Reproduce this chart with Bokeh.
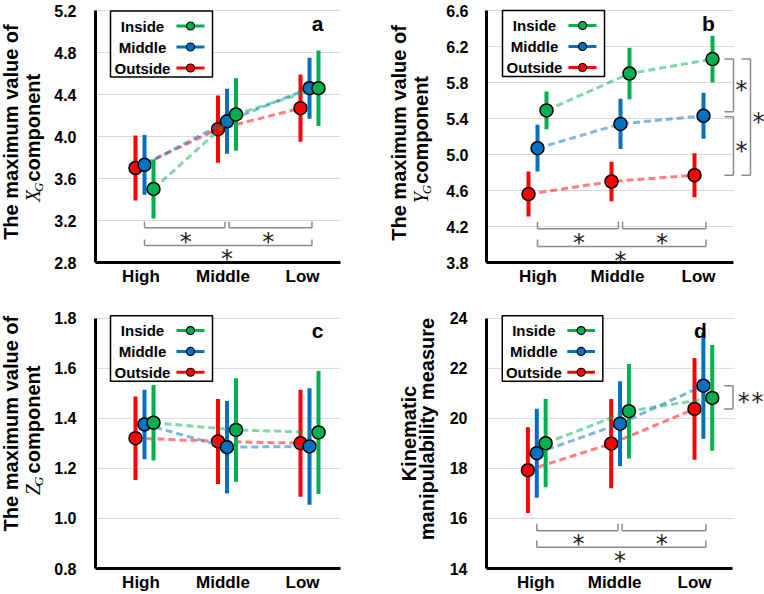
import math
from bokeh.plotting import figure
from bokeh.models import Label, FixedTicker, PrintfTickFormatter, Range1d
from bokeh.layouts import gridplot
from bokeh.embed import file_html
from bokeh.resources import INLINE

# ---------------- data ----------------
categories = ["High", "Middle", "Low"]
series_names = ["Inside", "Middle", "Outside"]
series_colors = {"Inside": "#00B050", "Middle": "#0070C0", "Outside": "#FF0000"}

# (a) maximum value of X_G component
a_inside_mean = [3.50, 4.21, 4.46]
a_inside_sd = [0.28, 0.345, 0.36]
a_middle_mean = [3.73, 4.145, 4.46]
a_middle_sd = [0.285, 0.31, 0.29]
a_outside_mean = [3.70, 4.07, 4.27]
a_outside_sd = [0.31, 0.32, 0.32]
a_yticks = [2.8, 3.2, 3.6, 4.0, 4.4, 4.8, 5.2]

# (b) maximum value of Y_G component
b_inside_mean = [5.49, 5.90, 6.06]
b_inside_sd = [0.21, 0.285, 0.26]
b_middle_mean = [5.07, 5.34, 5.43]
b_middle_sd = [0.26, 0.28, 0.255]
b_outside_mean = [4.56, 4.70, 4.77]
b_outside_sd = [0.25, 0.22, 0.245]
b_yticks = [3.8, 4.2, 4.6, 5.0, 5.4, 5.8, 6.2, 6.6]

# (c) maximum value of Z_G component
c_inside_mean = [1.383, 1.354, 1.344]
c_inside_sd = [0.151, 0.207, 0.246]
c_middle_mean = [1.376, 1.285, 1.288]
c_middle_sd = [0.139, 0.185, 0.233]
c_outside_mean = [1.321, 1.308, 1.301]
c_outside_sd = [0.167, 0.170, 0.214]
c_yticks = [0.8, 1.0, 1.2, 1.4, 1.6, 1.8]

# (d) kinematic manipulability measure
d_inside_mean = [19.01, 20.29, 20.82]
d_inside_sd = [1.765, 1.89, 2.115]
d_middle_mean = [18.61, 19.79, 21.31]
d_middle_sd = [1.78, 1.70, 2.12]
d_outside_mean = [17.93, 18.99, 20.38]
d_outside_sd = [1.715, 1.785, 2.035]
d_yticks = [14, 16, 18, 20, 22, 24]

FONT = "Liberation Sans"
GRID = "#d9d9d9"
BRK = "#8a8a8a"
PANEL_W, PANEL_H = 382, 297


def vlabel(t, x, y, text, font=FONT, style="bold", size=20):
    # x, y: centre of the rotated text box
    t.add_layout(Label(x=x, y=y, text=text, angle=math.pi / 2,
                       text_font=font, text_font_style=style,
                       text_font_size=f"{size}px", text_align="center",
                       text_baseline="middle", text_color="black"))


def title_fig(W, ylab):
    t = figure(width=W, height=PANEL_H, output_backend="svg", toolbar_location=None,
               x_range=Range1d(0, W), y_range=Range1d(PANEL_H, 0),
               x_axis_type=None, y_axis_type=None,
               min_border_left=0, min_border_right=0, min_border_top=0, min_border_bottom=0)
    t.outline_line_color = None
    t.background_fill_color = "white"
    t.border_fill_color = "white"
    t.xgrid.visible = False
    t.ygrid.visible = False
    l1_text, l1_base, l1_cy, l2, l2_base, l2_cy = ylab
    vlabel(t, l1_base - 7, l1_cy, l1_text)
    if isinstance(l2, tuple):
        sym, rest = l2
        symw = 12.2 if sym == "X" else 11.1
        subw, gap, restw = 9.4, 8.5, 107.8
        total = symw + subw + gap + restw
        start = l2_cy + total / 2
        vlabel(t, l2_base - 7, start - symw / 2, sym, font="Liberation Serif",
               style="italic", size=20)
        vlabel(t, l2_base + 3.5 - 4.5, start - symw - subw / 2 + 1, "G",
               font="Liberation Serif", style="italic", size=13)
        vlabel(t, l2_base - 7, start - symw - subw - gap - restw / 2, rest)
    else:
        vlabel(t, l2_base - 7, l2_cy, l2)
    return t


def build(g, means, sds, yticks, fmt, letter, legend_pos, ylab,
          bottom_sig=None, right_sig=None):
    W = g["title_w"]
    left, right, top, bottom = g["left"], g["right"], g["top"], g["bottom"]
    s = g["s"]
    ymin, ymax = yticks[0], yticks[-1]
    x0 = 1 - (g["cat1"] - left) / s
    upp = (ymax - ymin) / (bottom - top)

    def X(px):
        return x0 + (px - left) / s

    def Y(py):
        return ymax - (py - top) * upp

    p = figure(width=PANEL_W - W, height=PANEL_H, output_backend="svg", toolbar_location=None,
               x_range=Range1d(x0, X(right)), y_range=Range1d(ymin, Y(2)),
               min_border_left=left - W, min_border_right=PANEL_W - right,
               min_border_top=2, min_border_bottom=PANEL_H - bottom)
    p.outline_line_color = None
    p.background_fill_color = "white"
    p.border_fill_color = "white"
    p.xgrid.visible = False
    p.ygrid.visible = False

    xpos = [i + 1 for i in range(len(categories))]
    label_pos = [round(X(px), 6) for px in g["label_px"]]
    p.xaxis.ticker = FixedTicker(ticks=label_pos)
    p.xaxis.major_label_overrides = {x: c for x, c in zip(label_pos, categories)}
    p.yaxis.ticker = FixedTicker(ticks=yticks)
    p.yaxis.formatter = PrintfTickFormatter(format=fmt)
    p.xaxis.bounds = (x0, X(g["axis_end"]))
    p.yaxis.bounds = (ymin, ymax)
    for ax in (p.xaxis[0], p.yaxis[0]):
        ax.axis_line_width = 3
        ax.axis_line_color = "black"
        ax.major_tick_out = 0
        ax.major_tick_in = 0
        ax.minor_tick_out = 0
        ax.minor_tick_in = 0
        ax.major_tick_line_color = None
        ax.minor_tick_line_color = None
        ax.major_label_text_font = FONT
        ax.major_label_text_font_style = "bold"
        ax.major_label_text_color = "black"
    p.xaxis.major_label_text_font_size = "17px"
    p.xaxis.major_label_standoff = 4
    p.yaxis.major_label_text_font_size = "16px"
    p.yaxis.major_label_standoff = g["ystandoff"]

    # gridlines
    gt = yticks[1:]
    p.segment(x0=[x0] * len(gt), y0=gt, x1=[X(g["grid_end"])] * len(gt), y1=gt,
              line_color=GRID, line_width=1)

    # data series
    offs = {"Inside": 9, "Middle": 0, "Outside": -9}
    for name in ["Outside", "Middle", "Inside"]:
        col = series_colors[name]
        xs = [x + offs[name] / s for x in xpos]
        m = means[name]
        sd = sds[name]
        p.line(xs, m, line_color=col, line_alpha=0.5, line_width=3, line_dash="7 4")
        p.segment(x0=xs, y0=[a - b for a, b in zip(m, sd)], x1=xs,
                  y1=[a + b for a, b in zip(m, sd)], line_color=col, line_width=4)
        p.scatter(xs, m, size=13, fill_color=col, line_color="black", line_width=1.5)

    # legend
    L, T = legend_pos
    p.quad(left=[X(L)], right=[X(L + 102)], top=[Y(T)], bottom=[Y(T + 66)],
           fill_color="white", line_color="black", line_width=1.5)
    for i, name in enumerate(series_names):
        col = series_colors[name]
        ry = Y(T + 15 + 21 * i)
        p.add_layout(Label(x=X(L + 32), y=ry, text=name, text_font=FONT,
                           text_font_style="bold", text_font_size="15px",
                           text_align="center", text_baseline="middle",
                           text_color="black"))
        p.segment(x0=[X(L + 66)], y0=[ry], x1=[X(L + 94)], y1=[ry],
                  line_color=col, line_width=3)
        p.scatter([X(L + 80)], [ry], size=8, fill_color=col, line_color="black",
                  line_width=1.2)

    # panel letter
    p.add_layout(Label(x=X(g["letter_x"]), y=Y(g["letter_y"]), text=letter,
                       text_font=FONT, text_font_style="bold", text_font_size="21px",
                       text_align="center", text_baseline="alphabetic",
                       text_color="black"))

    def star(xd, yc):
        p.add_layout(Label(x=xd, y=yc - 5.0 * upp, text="*", text_font="DejaVu Sans",
                           text_font_size="24px", text_align="center",
                           text_baseline="alphabetic", text_color="#222222"))

    # significance brackets under the groups
    if bottom_sig:
        up_px, lo_px, tick, st_up, st_lo = bottom_sig
        yu, yl = Y(bottom - up_px), Y(bottom - lo_px)
        th = tick * upp
        segs = [(1.0, 1.975, yu), (2.025, 3.03, yu), (1.0, 3.03, yl)]
        for xa, xb, yy in segs:
            p.segment(x0=[xa, xa, xb], y0=[yy, yy, yy], x1=[xb, xa, xb],
                      y1=[yy, yy + th, yy + th], line_color=BRK, line_width=1.5)
        star(1.5, Y(bottom - st_up))
        star(2.5, Y(bottom - st_up))
        star(2.0, Y(bottom - st_lo))

    # significance brackets on the right side
    if right_sig:
        for (ytop, ybot, xv, stars) in right_sig:
            xa, xb = X(xv - 9), X(xv)
            p.segment(x0=[xb, xa, xa], y0=[ytop, ytop, ybot], x1=[xb, xb, xb],
                      y1=[ybot, ytop, ybot], line_color=BRK, line_width=1.5)
            for sx in stars:
                star(X(sx), (ytop + ybot) / 2)

    return title_fig(W, ylab), p


geo_a = dict(title_w=50, left=95, right=340, axis_end=340, grid_end=340, top=10, bottom=262,
             cat1=144, s=82.5, letter_x=317, letter_y=23.3, ystandoff=19,
             label_px=[140.5, 222.5, 302])
geo_b = dict(title_w=56, left=100, right=382, axis_end=347, grid_end=347, top=10, bottom=262,
             cat1=151, s=83.0, letter_x=322, letter_y=23.3, ystandoff=18,
             label_px=[151.5, 231, 312])
geo_c = dict(title_w=50, left=95, right=340, axis_end=340, grid_end=340, top=21, bottom=273,
             cat1=144, s=82.5, letter_x=317, letter_y=33.3, ystandoff=19,
             label_px=[140.5, 222.5, 302])
geo_d = dict(title_w=60, left=100, right=382, axis_end=350, grid_end=352, top=21, bottom=273,
             cat1=151, s=84.5, letter_x=317, letter_y=33.3, ystandoff=19,
             label_px=[150, 230, 311])

ta, pa = build(geo_a,
               {"Inside": a_inside_mean, "Middle": a_middle_mean, "Outside": a_outside_mean},
               {"Inside": a_inside_sd, "Middle": a_middle_sd, "Outside": a_outside_sd},
               a_yticks, "%.1f", "a", (110, 10.5),
               ("The maximum value of", 17, 148, ("X", "component"), 39, 158),
               bottom_sig=(34.7, 17, 6, 26, 8.7))

b_upp = (b_yticks[-1] - b_yticks[0]) / 252.0
tb, pb = build(geo_b,
               {"Inside": b_inside_mean, "Middle": b_middle_mean, "Outside": b_outside_mean},
               {"Inside": b_inside_sd, "Middle": b_middle_sd, "Outside": b_outside_sd},
               b_yticks, "%.1f", "b", (116, 10),
               ("The maximum value of", 23, 149, ("Y", "component"), 45, 160),
               bottom_sig=(33.7, 16, 7, 25, 7),
               right_sig=[(b_inside_mean[2], b_middle_mean[2] + 4 * b_upp, 347, [355]),
                          (b_middle_mean[2] - 1 * b_upp, b_outside_mean[2], 347, [355]),
                          (b_inside_mean[2], b_outside_mean[2], 364, [372])])

tc, pc = build(geo_c,
               {"Inside": c_inside_mean, "Middle": c_middle_mean, "Outside": c_outside_mean},
               {"Inside": c_inside_sd, "Middle": c_middle_sd, "Outside": c_outside_sd},
               c_yticks, "%.1f", "c", (110, 18.3),
               ("The maximum value of", 17, 137, ("Z", "component"), 39, 147))

td, pd_ = build(geo_d,
                {"Inside": d_inside_mean, "Middle": d_middle_mean, "Outside": d_outside_mean},
                {"Inside": d_inside_sd, "Middle": d_middle_sd, "Outside": d_outside_sd},
                d_yticks, "%d", "d", (116, 18.3),
                ("Kinematic", 33, 148, "manipulability measure", 51, 143),
                bottom_sig=(38, 21.3, 7, 29.7, 13),
                right_sig=[(d_middle_mean[2], d_outside_mean[2], 350, [361, 375])])

grid = gridplot([[ta, pa, tb, pb], [tc, pc, td, pd_]], toolbar_location=None)
open("out.html", "w").write(file_html(grid, INLINE))
